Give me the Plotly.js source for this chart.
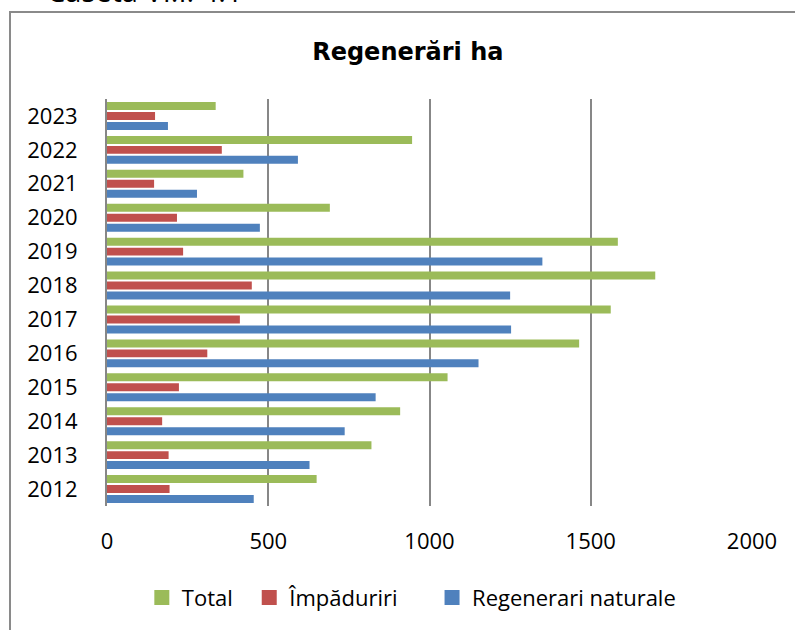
<!DOCTYPE html>
<html>
<head>
<meta charset="utf-8">
<script src="https://cdn.plot.ly/plotly-3.0.1.min.js"></script>
<style>
  body { margin: 0; width: 795px; height: 630px; overflow: hidden; position: relative; background: #fff; }
  #frame { position: absolute; left: 9px; top: 11px; width: 820px; height: 700px; border: 2px solid #8a8a8a; }
  #caption { position: absolute; left: 47px; top: -29px; font-family: "Open Sans", sans-serif; font-size: 29px; line-height: normal; color: #000; white-space: nowrap; }
  #chart { position: absolute; left: 0; top: 0; width: 795px; height: 630px; }
</style>
</head>
<body>
<div id="frame"></div>
<div id="caption">Caseta VI.I. 4.1</div>
<div id="chart"></div>
<script>
// years on the category axis
var years = ["2012", "2013", "2014", "2015", "2016", "2017", "2018", "2019", "2020", "2021", "2022", "2023"];

// hectares
var total = [650, 820, 909, 1056, 1464, 1562, 1700, 1584, 691, 423, 946, 337];
var impaduriri = [194, 191, 171, 223, 311, 412, 449, 236, 217, 146, 356, 149];
var regenerari = [455, 628, 737, 833, 1152, 1253, 1250, 1350, 474, 279, 592, 189];

var seriesNames = ["Total", "Împăduriri", "Regenerari naturale"];
var seriesColors = ["#9BBB59", "#C0504D", "#4F81BD"];

var xTicks = [0, 500, 1000, 1500, 2000];

// trailing spaces only widen the legend entries like in the original
var legendPad = ["\u00a0\u00a0", "\u00a0\u00a0\u00a0\u00a0\u00a0", ""];

// first trace sits at the bottom of each group, so blue goes first
function barTrace(values, i) {
  return {
    y: years, x: values, type: "bar", orientation: "h",
    name: seriesNames[i],
    marker: { color: seriesColors[i] },
    showlegend: false
  };
}

// legend-only entries so the swatches get the bigger square look
function legendTrace(i) {
  return {
    x: [null], y: [null], type: "scatter", mode: "markers",
    name: seriesNames[i] + legendPad[i],
    marker: { color: seriesColors[i], symbol: "square", size: 15 }
  };
}

var data = [
  barTrace(regenerari, 2),
  barTrace(impaduriri, 1),
  barTrace(total, 0),
  legendTrace(0),
  legendTrace(1),
  legendTrace(2)
];

var layout = {
  width: 795,
  height: 630,
  paper_bgcolor: "rgba(0,0,0,0)",
  plot_bgcolor: "rgba(0,0,0,0)",
  margin: { l: 106.5, r: 42.5, t: 99, b: 122 },
  font: { family: "'Open Sans', Lato, sans-serif", size: 22, color: "#000" },
  title: {
    text: "<b>Regenerări ha</b>",
    font: { family: "'DejaVu Sans', 'Liberation Sans', sans-serif", size: 24, color: "#000" },
    xref: "container", x: 0.513, xanchor: "center",
    yref: "container", y: 0.9175, yanchor: "middle"
  },
  barmode: "group",
  bargap: 0.12,
  bargroupgap: 0.2,
  showlegend: true,
  legend: {
    orientation: "h",
    x: 0.054, xanchor: "left",
    y: -0.225, yanchor: "middle",
    font: { size: 22 }
  },
  xaxis: {
    range: [0, 2000],
    tickvals: xTicks,
    showgrid: true,
    gridcolor: "#878787",
    gridwidth: 2,
    zeroline: false,
    showline: false,
    ticks: "outside",
    ticklen: 16,
    tickcolor: "rgba(0,0,0,0)",
    fixedrange: true
  },
  yaxis: {
    type: "category",
    categoryorder: "array",
    categoryarray: years,
    showgrid: false,
    zeroline: false,
    showline: true,
    linecolor: "#878787",
    linewidth: 2,
    ticks: "outside",
    ticklen: 23,
    tickcolor: "rgba(0,0,0,0)",
    fixedrange: true
  }
};

Plotly.newPlot("chart", data, layout, { displayModeBar: false, staticPlot: true });
</script>
</body>
</html>
